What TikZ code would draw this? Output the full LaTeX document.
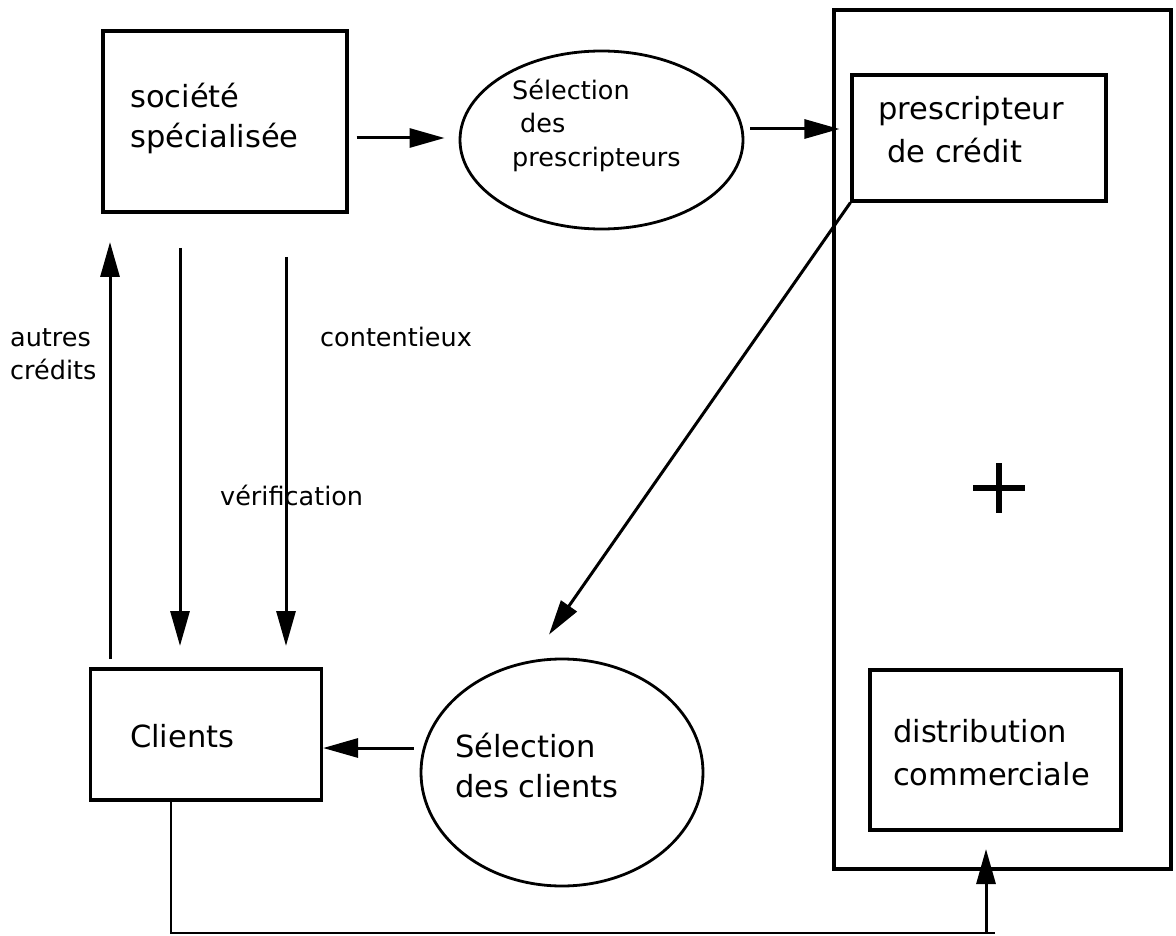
\documentclass[tikz,border=0pt]{standalone}
\usepackage{fontspec}
\setmainfont{DejaVu Sans}
\usetikzlibrary{arrows.meta,shapes.geometric}
\begin{document}
\begin{tikzpicture}[x=1pt,y=-1pt,
  box/.style={draw,line width=3.2pt,rectangle,inner sep=0pt},
  oval/.style={draw,line width=2.8pt,ellipse,inner sep=0pt},
  arr/.style={line width=3pt,-{Triangle[length=35pt,width=19pt]}},
  lin/.style={line width=2.8pt},
  big/.style={anchor=base west,inner sep=0pt,font=\fontsize{30.5}{36}\selectfont},
  small/.style={anchor=base west,inner sep=0pt,font=\fontsize{25.5}{30}\selectfont}]
\useasboundingbox[fill=white] (0,0) rectangle (1176,936);
% boxes
\node[box,minimum width=244pt,minimum height=181pt] (soc) at (225,121.5) {};
\node[oval,minimum width=283pt,minimum height=178pt] (sel1) at (601.5,140) {};
\node[box,minimum width=337pt,minimum height=859pt] (outer) at (1002.5,439.5) {};
\node[box,minimum width=254pt,minimum height=126pt] (presc) at (979,138) {};
\node[box,minimum width=251pt,minimum height=160pt] (dist) at (995.5,750) {};
\node[box,minimum width=231pt,minimum height=131pt] (cli) at (206,734.5) {};
\node[oval,minimum width=282pt,minimum height=227pt] (sel2) at (562,772.5) {};
% texts
\node[big] (t1) at (130,108) {société};
\node[big] (t2) at (130,148) {spécialisée};
\node[small] (t3) at (512,100) {Sélection};
\node[small] (t4) at (520,133) {des};
\node[small] (t5) at (512,167) {prescripteurs};
\node[big] (t6) at (878,120) {prescripteur};
\node[big] (t7) at (887,163) {de crédit};
\node[small] (t8) at (10,346) {autres};
\node[small] (t9) at (10,379) {crédits};
\node[small] (t10) at (320,346) {contentieux};
\node[small] (t11) at (220,505) {vérification};
\node[big] (t12) at (130,747) {Clients};
\node[big] (t13) at (455,757) {Sélection};
\node[big] (t14) at (455,797) {des clients};
\node[big] (t15) at (893,742) {distribution};
\node[big] (t16) at (893,785) {commerciale};
% plus sign
\coordinate (plus) at (999,488);
\draw[line width=6.5pt] ([xshift=-26pt]plus) -- ([xshift=26pt]plus);
\draw[line width=6.5pt] ([yshift=25pt]plus) -- ([yshift=-25pt]plus);
% connectors
\draw[arr] (soc.east |- 0,138) ++(8,0) -- ([xshift=-14pt,yshift=2pt]sel1.west);
\draw[arr] ([xshift=6pt,yshift=11pt]sel1.east) -- ([xshift=-11pt,yshift=9pt]presc.west);
\draw[arr] (presc.south west) -- ([xshift=-13pt,yshift=23pt]sel2.north);
\draw[arr] ([xshift=-6pt,yshift=24.5pt]sel2.west) -- ([yshift=-13.5pt]cli.east);
\draw[arr] (110,659) coordinate (a1) -- (110,242) coordinate (a2);
\draw[arr] (180,248) coordinate (b1) -- (180,646) coordinate (b2);
\draw[arr] (286,257) coordinate (c1) -- (286,646) coordinate (c2);
\coordinate (d1) at (171,933);
\coordinate (d2) at (986,933);
\draw[lin] (171,800) -- (d1) -- (995,933);
\draw[arr] (d2) -- (986,849);
\end{tikzpicture}
\end{document}
